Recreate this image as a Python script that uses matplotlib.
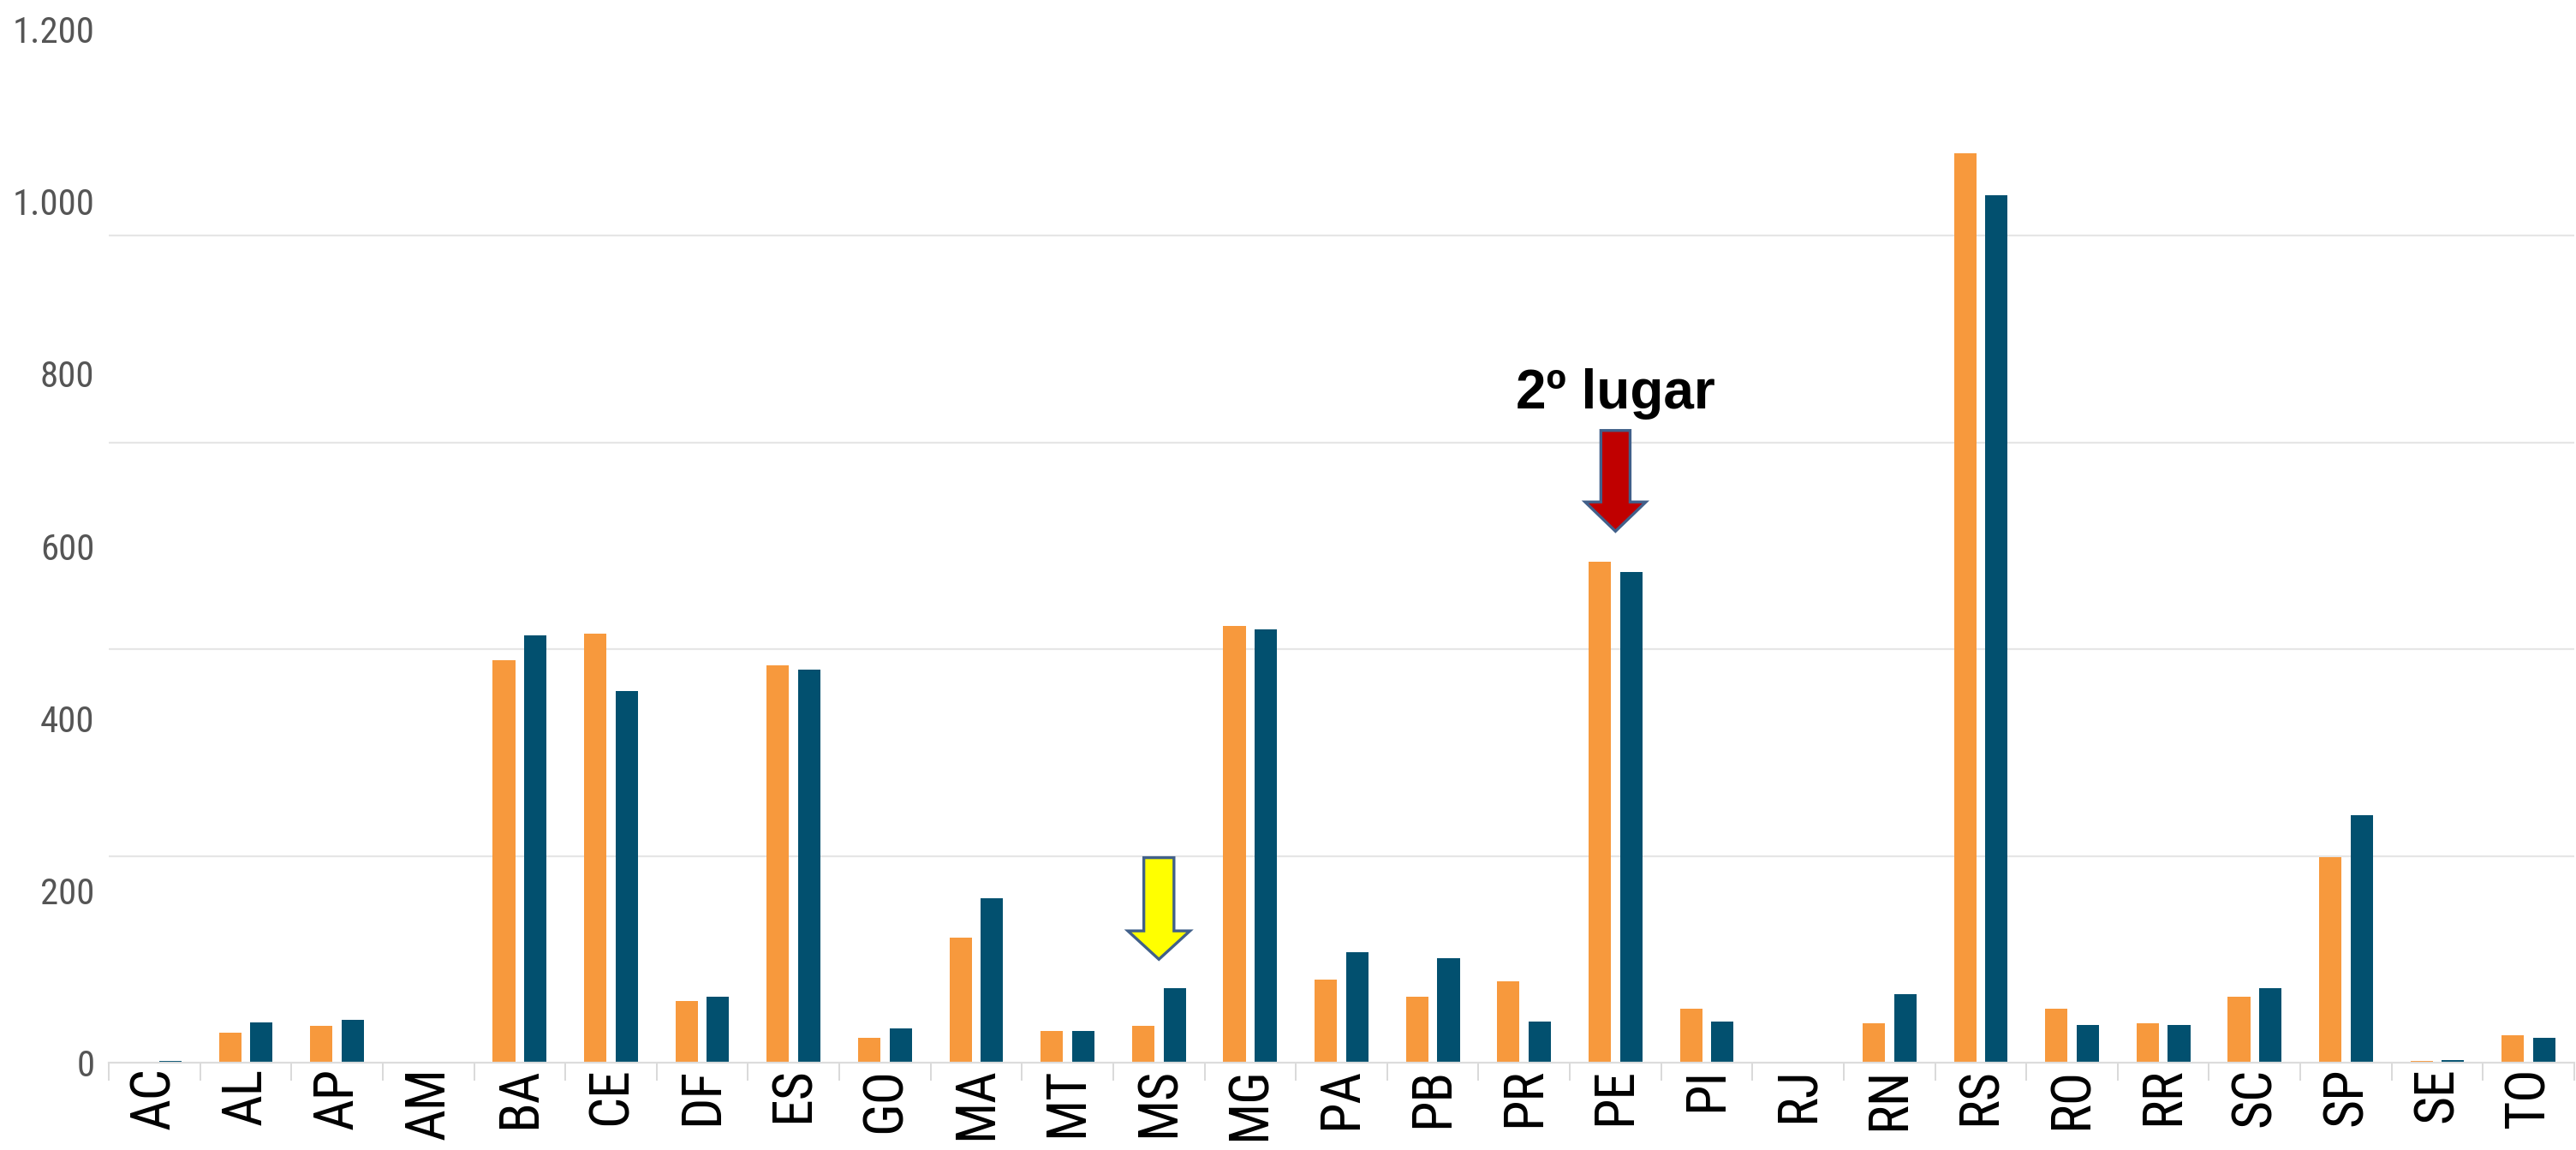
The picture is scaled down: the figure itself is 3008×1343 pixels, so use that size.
import matplotlib
matplotlib.use("Agg")
import matplotlib.pyplot as plt
import numpy as np
from matplotlib import font_manager
from matplotlib.ticker import FixedLocator, FuncFormatter
from matplotlib.patches import Polygon

# ---- data ----
states = ["AC", "AL", "AP", "AM", "BA", "CE", "DF", "ES", "GO", "MA", "MT", "MS", "MG",
          "PA", "PB", "PR", "PE", "PI", "RJ", "RN", "RS", "RO", "RR", "SC", "SP", "SE", "TO"]
orange_vals = [0, 35, 43, 0, 467, 498, 72, 461, 29, 145, 37, 43, 507,
               96, 77, 94, 582, 63, 0, 46, 1056, 63, 46, 77, 239, 2, 32]
blue_vals = [2, 47, 50, 0, 496, 431, 77, 456, 40, 191, 37, 86, 503,
             128, 121, 48, 570, 48, 0, 80, 1007, 44, 44, 86, 287, 3, 29]
y_tick_values = [0, 200, 400, 600, 800, 1000, 1200]
grid_values = [0, 240, 480, 720, 960, 1200]

highlight_red = "PE"
highlight_yellow = "MS"
annotation_text = "2º lugar"

ORANGE = "#F7993D"
BLUE = "#02506F"

names = {f.name for f in font_manager.fontManager.ttflist}
condensed_dejavu = any(f.name == "DejaVu Sans" and "ondensed" in str(f.stretch) or
                       ("DejaVuSansCondensed" in f.fname) for f in font_manager.fontManager.ttflist)
if "Liberation Sans Narrow" in names:
    narrow = dict(family="Liberation Sans Narrow")
elif "Roboto Condensed" in names:
    narrow = dict(family="Roboto Condensed")
elif "Open Sans Condensed" in names:
    narrow = dict(family="Open Sans Condensed")
elif condensed_dejavu:
    narrow = dict(family="DejaVu Sans", stretch="condensed")
elif "Liberation Sans" in names:
    narrow = dict(family="Liberation Sans")
else:
    narrow = dict(family="DejaVu Sans")
bold_family = "Liberation Sans" if "Liberation Sans" in names else "DejaVu Sans"

W, H, DPI = 3008, 1343, 100
fig = plt.figure(figsize=(W / DPI, H / DPI), dpi=DPI)
left_px, right_px, top_px, bottom_px = 127, 3006, 34, 1241
ax = fig.add_axes([left_px / W, 1 - bottom_px / H, (right_px - left_px) / W, (bottom_px - top_px) / H])

x = np.arange(len(states))
bw = 0.245
off = 0.172
ax.bar(x - off, orange_vals, width=bw, color=ORANGE, zorder=3)
ax.bar(x + off, blue_vals, width=bw, color=BLUE, zorder=3)

ax.set_xlim(-0.5, len(states) - 0.5)
ax.set_ylim(0, 1200)

ax.yaxis.set_minor_locator(FixedLocator(grid_values))
ax.yaxis.grid(True, which="minor", color="#e6e6e6", linewidth=1.6, zorder=0)
ax.yaxis.grid(False, which="major")
ax.set_yticks(y_tick_values)
ax.yaxis.set_major_formatter(FuncFormatter(lambda v, p: f"{int(v):,}".replace(",", ".")))
ax.tick_params(axis="y", which="both", length=0, pad=12, labelcolor="#555555")

ax.set_xticks(x)
ax.set_xticklabels(states, rotation=90)
ax.xaxis.set_minor_locator(FixedLocator(np.arange(-0.5, len(states), 1.0)))
ax.tick_params(axis="x", which="major", length=0, pad=4)
ax.tick_params(axis="x", which="minor", length=15, width=1.4, color="#d9d9d9")

for s in ["top", "right", "left"]:
    ax.spines[s].set_visible(False)
ax.spines["bottom"].set_color("#dcdcdc")
ax.spines["bottom"].set_linewidth(1.6)
ax.spines["bottom"].set_zorder(4)

# size the tick fonts to match the reference text extents
ysize, xsize = 34.0, 38.0
for lab in ax.get_yticklabels():
    lab.set_fontproperties(font_manager.FontProperties(size=ysize, **narrow))
for lab in ax.get_xticklabels():
    lab.set_fontproperties(font_manager.FontProperties(size=xsize, **narrow))
    lab.set_color("black")
fig.canvas.draw()
r = fig.canvas.get_renderer()
ylab = ax.get_yticklabels()[-1]
wy = ylab.get_window_extent(r).width
ysize = ysize * 96.0 / wy
xlab = ax.get_xticklabels()[states.index("MA")]
hx = xlab.get_window_extent(r).height
xsize = min(xsize * 90.0 / hx, 46.0)
for lab in ax.get_yticklabels():
    lab.set_fontproperties(font_manager.FontProperties(size=ysize, **narrow))
for lab in ax.get_xticklabels():
    lab.set_fontproperties(font_manager.FontProperties(size=xsize, **narrow))
    lab.set_color("black")


def down_arrow(cx, top, base, tip, shaft_hw, head_hw, color):
    pts = [(cx - shaft_hw, top), (cx + shaft_hw, top), (cx + shaft_hw, base),
           (cx + head_hw, base), (cx, tip), (cx - head_hw, base), (cx - shaft_hw, base)]
    ax.add_patch(Polygon(pts, closed=True, facecolor=color, edgecolor="#41608A",
                         linewidth=2.4, joinstyle="miter", zorder=5, clip_on=False))


ir = states.index(highlight_red)
iy = states.index(highlight_yellow)
down_arrow(ir, 734, 651, 617, 0.16, 0.333, "#C00000")
down_arrow(iy, 238, 153, 120, 0.165, 0.34, "#FFFF00")

ax.text(ir, 760, annotation_text, ha="center", va="baseline", fontsize=46,
        fontweight="bold", family=bold_family, color="black", zorder=6)

fig.savefig("out.png", dpi=DPI)
